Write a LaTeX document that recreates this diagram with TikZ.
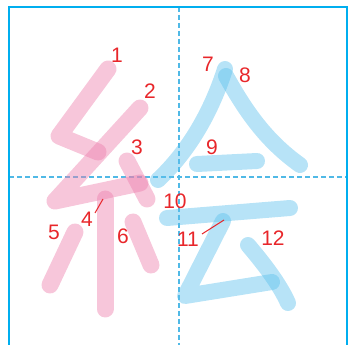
\documentclass[tikz,border=0pt]{standalone}
\usepackage{fontspec}
\setmainfont{Liberation Sans}
\usepackage{xcolor}
\usepackage{tikz}
\definecolor{frameblue}{RGB}{0,174,239}
\definecolor{guideblue}{RGB}{80,185,230}
\definecolor{leftpink}{RGB}{237,128,173}
\definecolor{rightblue}{RGB}{95,193,237}
\definecolor{numred}{RGB}{232,38,42}

\begin{document}
\begin{tikzpicture}[
  x=1pt, y=-1pt,
  frame/.style={draw=frameblue, line width=2pt},
  guide/.style={draw=guideblue, line width=1.1pt, dash pattern=on 5pt off 3pt},
  brush/.style={line cap=round, line join=round, draw opacity=0.45},
  pinkstroke/.style={brush, draw=leftpink, line width=17pt},
  bluestroke/.style={brush, draw=rightblue, line width=16pt},
  num/.style={text=numred, font=\fontsize{21}{21}\selectfont, inner sep=0pt},
  tick/.style={draw=numred, line width=1pt}
]
\useasboundingbox (0,0) rectangle (349,345);

\draw[guide] (179,7) -- (179,345);
\draw[guide] (9,177) -- (347,177);
\draw[frame] (9,345) -- (9,7) -- (347,7) -- (347,345);

\draw[pinkstroke] (108,69) -- (59,136) -- (98,152);
\draw[pinkstroke] (140,108) -- (55,201) -- (140,183);
\draw[pinkstroke] (127,161) -- (147,199);
\draw[pinkstroke] (105,199) -- (105,309);
\draw[pinkstroke] (75,232) -- (50,285);
\draw[pinkstroke] (133,222) -- (151,265);

\draw[bluestroke] (225,69) .. controls (212,110) and (190,150) .. (158,180);
\draw[bluestroke] (226,76) .. controls (245,110) and (265,140) .. (300,165);
\draw[bluestroke] (197,164) -- (257,161);
\draw[bluestroke] (167,218) -- (290,208);
\draw[bluestroke] (223,221) -- (185,296) -- (272,282);
\draw[bluestroke] (248,245) .. controls (265,265) and (280,285) .. (288,303);

\node[num] (n1) at (117,55) {1};
\node[num] (n2) at (150,91) {2};
\node[num] (n3) at (137,147) {3};
\node[num] (n4) at (87,219) {4};
\node[num] (n5) at (54,232) {5};
\node[num] (n6) at (123,236) {6};
\node[num] (n7) at (208,64) {7};
\node[num] (n8) at (245,75) {8};
\node[num] (n9) at (212,147) {9};
\node[num] (n10) at (175,201) {10};
\node[num] (n11) at (188,239) {11};
\node[num] (n12) at (273,238) {12};

\coordinate (t4) at (103,199);
\coordinate (t11) at (224,220);
\draw[tick] (95,213) -- (t4);
\draw[tick] (202,234) -- (t11);

\end{tikzpicture}
\end{document}
